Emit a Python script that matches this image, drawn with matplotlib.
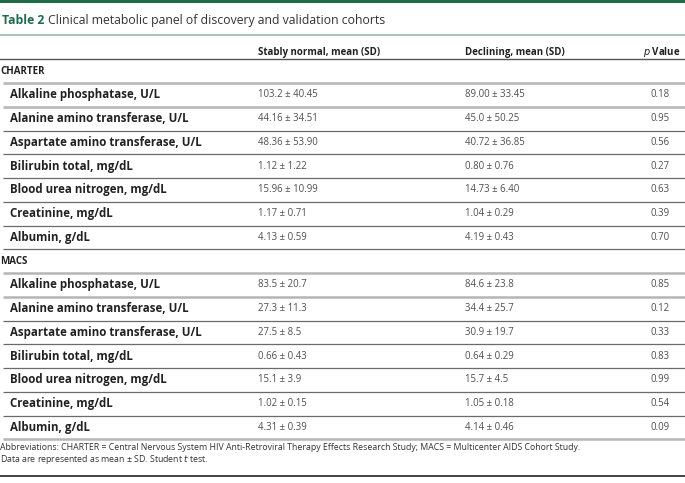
import matplotlib.pyplot as plt

plt.rcParams['font.family'] = ['Open Sans', 'DejaVu Sans']

# table content
columns = ['Stably normal, mean (SD)', 'Declining, mean (SD)', 'Value']
cohorts = ['CHARTER', 'MACS']
variables = ['Alkaline phosphatase, U/L', 'Alanine amino transferase, U/L',
             'Aspartate amino transferase, U/L', 'Bilirubin total, mg/dL',
             'Blood urea nitrogen, mg/dL', 'Creatinine, mg/dL', 'Albumin, g/dL']

charter_normal = ['103.2 ± 40.45', '44.16 ± 34.51', '48.36 ± 53.90', '1.12 ± 1.22',
                  '15.96 ± 10.99', '1.17 ± 0.71', '4.13 ± 0.59']
charter_declining = ['89.00 ± 33.45', '45.0 ± 50.25', '40.72 ± 36.85', '0.80 ± 0.76',
                     '14.73 ± 6.40', '1.04 ± 0.29', '4.19 ± 0.43']
charter_p = ['0.18', '0.95', '0.56', '0.27', '0.63', '0.39', '0.70']

macs_normal = ['83.5 ± 20.7', '27.3 ± 11.3', '27.5 ± 8.5', '0.66 ± 0.43',
               '15.1 ± 3.9', '1.02 ± 0.15', '4.31 ± 0.39']
macs_declining = ['84.6 ± 23.8', '34.4 ± 25.7', '30.9 ± 19.7', '0.64 ± 0.29',
                  '15.7 ± 4.5', '1.05 ± 0.18', '4.14 ± 0.46']
macs_p = ['0.85', '0.12', '0.33', '0.83', '0.99', '0.54', '0.09']

title_label = 'Table 2'
title_text = 'Clinical metabolic panel of discovery and validation cohorts'
footnote_1 = ('Abbreviations: CHARTER = Central Nervous System HIV Anti-Retroviral Therapy '
              'Effects Research Study; MACS = Multicenter AIDS Cohort Study.')
footnote_2 = 'Data are represented as mean ± SD. Student $\\it{t}$ test.'

green = '#1f6b4c'
label_col = '#222222'
value_col = '#505050'
light = '#b5b5b5'
dark = '#6a6a6a'

W, H = 685, 483
fig = plt.figure(figsize=(W / 100, H / 100), dpi=100)
ax = fig.add_axes([0, 0, 1, 1])
ax.set_xlim(0, W)
ax.set_ylim(H, 0)
ax.axis('off')

# top bar and title
ax.axhline(1.3, color=green, lw=2.2)
t = ax.text(2, 20.5, title_label, color=green, fontsize=8.85, fontweight='bold', va='center')
fig.canvas.draw()
bb = t.get_window_extent().transformed(ax.transData.inverted())
ax.text(bb.x1 + 4, 20.5, title_text, color='#333333', fontsize=8.85, va='center')
ax.axhline(35, color='#a8c2b8', lw=1.4)

# header
col_x = [258, 465, 651]
hy = 52
ax.text(col_x[0], hy, columns[0], fontsize=7, fontweight='bold', color=label_col, va='center')
ax.text(col_x[1], hy, columns[1], fontsize=7, fontweight='bold', color=label_col, va='center')
ax.text(col_x[2] - 8, hy, '$\\bf{\\it{p}}$ ' + columns[2], fontsize=7, fontweight='bold',
        color=label_col, va='center')

top = 59.3
pitch = 23.75
ax.axhline(top, color='#555555', lw=1.0)

blocks = [(cohorts[0], charter_normal, charter_declining, charter_p),
          (cohorts[1], macs_normal, macs_declining, macs_p)]

k = 0
for bi, (name, normal, declining, pv) in enumerate(blocks):
    yc = top + (k + 0.5) * pitch
    ax.text(0.5, yc, name, fontsize=7, fontweight='bold', color=label_col, va='center')
    k += 1
    ax.plot([3, W], [top + k * pitch] * 2, color=light, lw=1.8, solid_capstyle='butt')
    for i, var in enumerate(variables):
        yc = top + (k + 0.5) * pitch
        ax.text(10, yc, var, fontsize=8.3, fontweight='bold', color=label_col, va='center')
        ax.text(col_x[0], yc, normal[i], fontsize=6.9, color=value_col, va='center')
        ax.text(col_x[1], yc, declining[i], fontsize=6.9, color=value_col, va='center')
        ax.text(col_x[2], yc, pv[i], fontsize=6.9, color=value_col, va='center')
        k += 1
        last = (i == len(variables) - 1)
        if i == 0 or (last and bi == len(blocks) - 1):
            ax.plot([3, W], [top + k * pitch] * 2, color=light, lw=1.8, solid_capstyle='butt')
        else:
            ax.plot([3, W], [top + k * pitch] * 2, color=dark, lw=0.9, solid_capstyle='butt')

# footnotes
ax.text(0.5, 447.5, footnote_1, fontsize=6.3, color='#333333', va='center')
ax.text(0.5, 459.5, footnote_2, fontsize=6.3, color='#333333', va='center')
ax.axhline(476, color='#222222', lw=1.2)

fig.savefig('out.png', dpi=100)
